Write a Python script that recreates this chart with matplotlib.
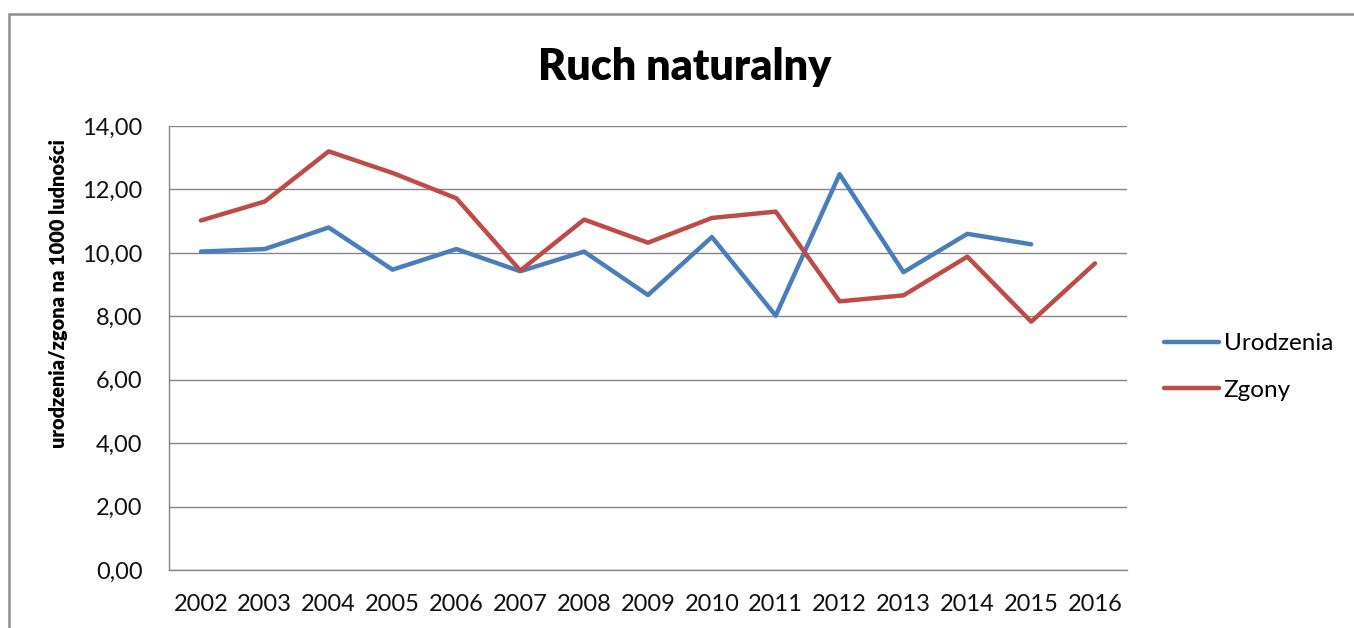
import numpy as np
import matplotlib
matplotlib.use("Agg")
import matplotlib.pyplot as plt
from matplotlib.patches import Rectangle
from matplotlib.ticker import FuncFormatter

years = ["2002", "2003", "2004", "2005", "2006", "2007", "2008", "2009",
         "2010", "2011", "2012", "2013", "2014", "2015", "2016"]
urodzenia = [10.04, 10.12, 10.80, 9.47, 10.12, 9.42, 10.04, 8.67,
             10.50, 8.02, 12.48, 9.39, 10.60, 10.27, np.nan]
zgony = [11.02, 11.62, 13.20, 12.52, 11.72, 9.44, 11.05, 10.32,
         11.10, 11.30, 8.47, 8.66, 9.88, 7.83, 9.67]

plt.rcParams['font.family'] = ['Lato', 'DejaVu Sans']

W, H = 1354, 628
fig = plt.figure(figsize=(W / 100, H / 100), dpi=100)

# ramka wykresu (Excel)
fig.add_artist(Rectangle((9 / W, -0.1), 2.0, (H - 14) / H + 0.1,
                         transform=fig.transFigure, fill=False,
                         edgecolor='#8c8c8c', lw=1.8))

ax = fig.add_axes([169 / W, (H - 570) / H, (1127 - 169) / W, (570 - 126) / H])

x = np.arange(len(years))
ax.plot(x, urodzenia, color='#4A7EBB', lw=3.2, label='Urodzenia',
        solid_capstyle='round', solid_joinstyle='round')
ax.plot(x, zgony, color='#BE4B48', lw=3.2, label='Zgony',
        solid_capstyle='round', solid_joinstyle='round')

ax.set_xlim(-0.5, len(years) - 0.5)
ax.set_ylim(0, 14)
ax.set_yticks(np.arange(0, 15, 2))
ax.yaxis.set_major_formatter(FuncFormatter(lambda v, p: f"{v:.2f}".replace('.', ',')))
ax.set_xticks(x)
ax.set_xticklabels(years)
ax.tick_params(axis='both', length=0, colors='#111111')
ax.tick_params(axis='x', labelsize=17, pad=17)
ax.tick_params(axis='y', labelsize=17, pad=19)
ax.grid(axis='y', color='#868686', lw=1.0)
ax.set_axisbelow(True)
for s in ['top', 'right']:
    ax.spines[s].set_visible(False)
for s in ['left', 'bottom']:
    ax.spines[s].set_color('#868686')
    ax.spines[s].set_linewidth(1.0)

ax.set_ylabel("urodzenia/zgona na 1000 ludności", fontsize=14.4,
              fontweight='heavy')
ax.yaxis.set_label_coords(-0.105, (570 - 294) / 444)

fig.text(685 / W, 1 - 67 / H, "Ruch naturalny", fontsize=31, fontweight='heavy',
         ha='center', va='center')

ax.legend(loc='center left', bbox_to_anchor=(1164 / W, 1 - 367 / H),
          bbox_transform=fig.transFigure, frameon=False, borderaxespad=0,
          borderpad=0, fontsize=17.5, handlelength=2.25, handletextpad=0.2,
          labelspacing=1.05)

fig.savefig("out.png", dpi=100)
